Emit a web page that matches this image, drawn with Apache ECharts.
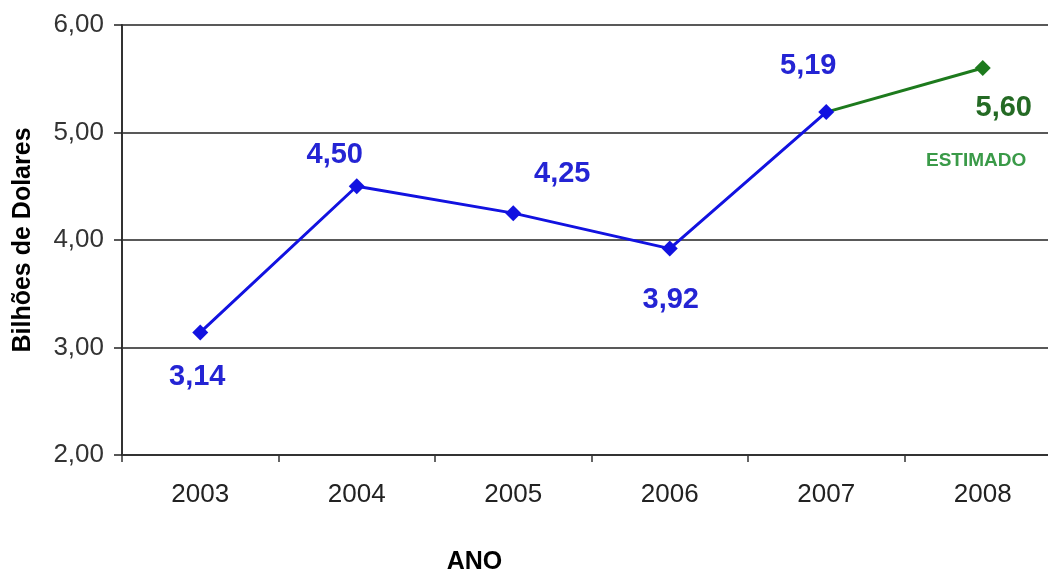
<!DOCTYPE html>
<html>
<head>
<meta charset="utf-8">
<script src="https://cdn.jsdelivr.net/npm/echarts@6/dist/echarts.min.js"></script>
<style>
  html, body { margin: 0; padding: 0; background: #fff; }
  #chart { width: 1048px; height: 570px; }
</style>
</head>
<body>
<div id="chart"></div>
<script>
// dados
const anos = ['2003', '2004', '2005', '2006', '2007', '2008']
const valores = [3.14, 4.5, 4.25, 3.92, 5.19, 5.6]
const ultimoReal = 4 // 2007 e o ultimo ano realizado, 2008 e estimado
const yTicks = [2, 3, 4, 5, 6]

// deslocamento dos rotulos em relacao ao ponto
const labelOffsets = [[-3, 45], [-22, -31], [49, -39], [1, 51], [-18, -46], [21, 40]]

const fmt = (v) => v.toFixed(2).replace('.', ',')

const chart = echarts.init(document.getElementById('chart'))

const azul = '#1212e0'
const verde = '#1d7a1d'

const serieReal = valores.map((v, i) =>
  i <= ultimoReal ? { value: v, label: { offset: labelOffsets[i] } } : '-'
)
const serieEstimada = valores.map((v, i) => {
  if (i < ultimoReal) return '-'
  if (i === ultimoReal) return { value: v, symbol: 'none', label: { show: false } }
  return { value: v, label: { offset: labelOffsets[i] } }
})

const option = {
  animation: false,
  backgroundColor: '#fff',
  textStyle: { fontFamily: 'Liberation Sans, Arial, sans-serif' },
  grid: { left: 122, top: 25, width: 939, height: 430, containLabel: false, outerBoundsMode: 'none' },
  xAxis: {
    type: 'category',
    data: anos,
    boundaryGap: true,
    name: 'ANO',
    nameLocation: 'middle',
    nameGap: 95,
    nameTextStyle: { color: '#000', fontSize: 25, fontWeight: 'bold', padding: [0, 234, 0, 0] },
    axisLine: { lineStyle: { color: '#333', width: 2 } },
    axisTick: { show: true, length: 7, lineStyle: { color: '#333', width: 1.5 } },
    axisLabel: { color: '#222', fontSize: 26, margin: 27 },
  },
  yAxis: {
    type: 'value',
    min: yTicks[0],
    max: yTicks[yTicks.length - 1],
    interval: 1,
    name: 'Bilhões de Dolares',
    nameLocation: 'middle',
    nameGap: 86,
    nameTextStyle: { color: '#000', fontSize: 25, fontWeight: 'bold' },
    axisLine: { show: true, lineStyle: { color: '#333', width: 2 } },
    axisTick: { show: true, length: 8, lineStyle: { color: '#222', width: 1.5 } },
    axisLabel: { color: '#333', fontSize: 26, margin: 18, formatter: (v) => fmt(v) },
    splitLine: { lineStyle: { color: '#222', width: 1.5 } },
  },
  graphic: [
    {
      type: 'text',
      left: 926,
      top: 151,
      style: {
        text: 'ESTIMADO',
        fill: '#3a9a48',
        font: 'bold 19px Liberation Sans, Arial, sans-serif',
      },
    },
  ],
  series: [
    {
      name: 'Estimado',
      type: 'line',
      z: 2,
      data: serieEstimada,
      symbol: 'diamond',
      symbolSize: 16,
      lineStyle: { color: verde, width: 3 },
      itemStyle: { color: verde },
      label: {
        show: true,
        position: 'inside',
        color: '#246a24',
        fontSize: 29,
        fontWeight: 'bold',
        formatter: (p) => fmt(p.value),
      },
    },
    {
      name: 'Realizado',
      type: 'line',
      z: 3,
      data: serieReal,
      symbol: 'diamond',
      symbolSize: 16,
      lineStyle: { color: azul, width: 3 },
      itemStyle: { color: azul },
      label: {
        show: true,
        position: 'inside',
        color: '#2424d4',
        fontSize: 29,
        fontWeight: 'bold',
        formatter: (p) => fmt(p.value),
      },
    },
  ],
}

chart.setOption(option)
</script>
</body>
</html>
